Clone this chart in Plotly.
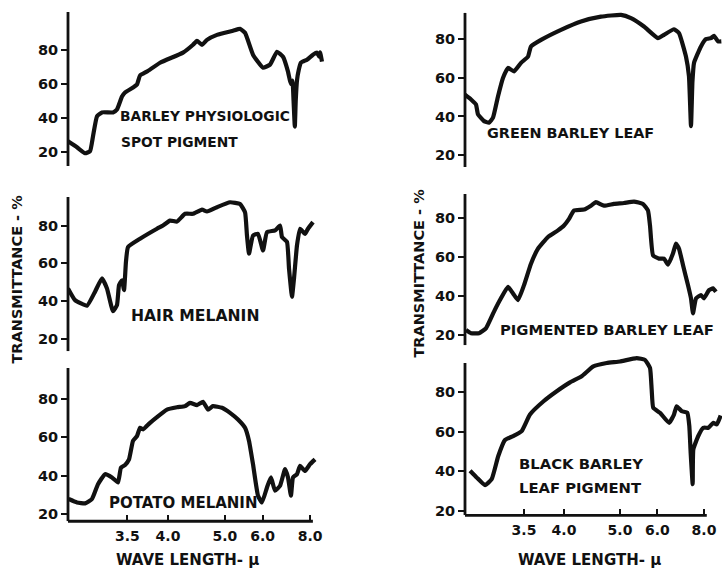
import plotly.graph_objects as go

# ---------------- data ----------------
# x: wavenumber in cm^-1 (the chart's abscissa is linear in 1/wavelength),
# y: transmittance in %
barley_spot_nu = [3380, 3301, 3230, 3186, 3160, 3125, 3081, 2984, 2949, 2905, 2878, 2808, 2773,
                  2746, 2685, 2570, 2368, 2280, 2245, 2201, 2157, 2069, 1928, 1866, 1822, 1752,
                  1664, 1602, 1541, 1488, 1444, 1420, 1405, 1395, 1384, 1376, 1365, 1350, 1330,
                  1277, 1224, 1189, 1171, 1162, 1145]
barley_spot_t = [26.4, 22.9, 19.4, 20.6, 29.3, 41, 43.3, 43.3, 45, 52.6, 55, 57.9, 59.6,
                 64.9, 67.2, 72.4, 78.3, 82.9, 85.2, 82.9, 85.8, 88.7, 91.1, 92.2, 89.9, 77.1,
                 69.5, 71.3, 78.8, 75.9, 67.2, 60, 62, 50, 35, 50, 62, 68, 72.4,
                 74.2, 77.1, 78.3, 76, 78.5, 73]

hair_nu = [3380, 3318, 3213, 3142, 3081, 3037, 2984, 2949, 2931, 2905, 2887, 2870, 2852, 2746,
           2597, 2544, 2482, 2421, 2350, 2280, 2201, 2157, 2069, 1954, 1866, 1822, 1805, 1787,
           1752, 1708, 1664, 1629, 1558, 1514, 1497, 1453, 1435, 1409, 1391, 1365, 1338, 1294,
           1268, 1224]
hair_t = [46.7, 40.5, 37.6, 45, 52, 46.7, 34.7, 37.9, 48.4, 51, 45.8, 60.7, 68.6, 73,
          78.3, 80, 82.6, 82.1, 86.2, 86.2, 88.4, 87.4, 89.7, 92.3, 91.4, 87, 74.7, 65.1,
          74.7, 75.6, 66.8, 76.5, 77.4, 80, 73.9, 71.3, 57.2, 42.3, 52, 69.5, 78.3, 75.6,
          78.3, 81.8]

potato_nu = [3375, 3301, 3230, 3169, 3116, 3054, 2993, 2940, 2914, 2878, 2843, 2808, 2773, 2746,
             2720, 2658, 2597, 2509, 2421, 2350, 2306, 2245, 2192, 2148, 2104, 2025, 1954, 1884,
             1822, 1787, 1752, 1708, 1673, 1629, 1594, 1558, 1514, 1470, 1444, 1418, 1400, 1365,
             1338, 1294, 1250, 1206]
potato_t = [27.8, 26, 25.5, 27.8, 35.5, 40.7, 39, 36.4, 44.1, 45.5, 48.4, 58, 60.5, 64.8,
            64, 67.4, 70.4, 74.3, 75.5, 76.1, 77.8, 76.6, 78.3, 74.3, 76.1, 75.2, 72.6, 69.1,
            64.8, 58, 45.9, 29.5, 26, 33.8, 39, 32.1, 34.7, 43.3, 39, 29.5, 39, 40.7,
            45, 42.4, 45.9, 48.4]

green_nu = [3384, 3330, 3286, 3268, 3214, 3170, 3134, 3089, 3045, 3000, 2947, 2884, 2821, 2795,
            2705, 2527, 2348, 2170, 1991, 1902, 1786, 1661, 1607, 1518, 1473, 1411, 1384, 1366,
            1353, 1339, 1277, 1232, 1187, 1161, 1125, 1095]
green_t = [51.3, 48.8, 46.2, 41.1, 37.6, 36.8, 39.4, 50.5, 59.9, 65.1, 63.3, 67.7, 71, 76.2,
           79.6, 84.8, 89.1, 91.6, 92.5, 90.8, 86.5, 80.5, 82.2, 85.1, 83.1, 71, 60.8, 35,
           58, 67.7, 76.2, 80, 80.5, 81.7, 78.8, 78.8]

pigmented_nu = [3375, 3330, 3259, 3197, 3125, 3063, 3000, 2955, 2911, 2857, 2795, 2732, 2643,
                2554, 2500, 2455, 2411, 2321, 2259, 2214, 2143, 2054, 1964, 1875, 1795, 1750,
                1732, 1705, 1652, 1607, 1571, 1527, 1500, 1473, 1437, 1393, 1366, 1348, 1321,
                1277, 1250, 1205, 1170, 1143]
pigmented_t = [22.6, 20.9, 20.9, 23.4, 32, 38.8, 44.7, 41.3, 37.9, 45.6, 56.6, 64.3, 70.3,
               73.7, 76.2, 79.6, 83.9, 84.4, 86.4, 88.2, 86.4, 87.3, 87.8, 88.5, 87.3, 83.9,
               76.2, 60.9, 59.2, 59.2, 56.1, 61.8, 66.9, 64.3, 55.8, 45.6, 38.8, 31.1, 38.8,
               40.5, 38.8, 43, 43.9, 42.2]

black_nu = [3339, 3280, 3205, 3146, 3087, 3027, 2953, 2878, 2804, 2685, 2565, 2446, 2342,
            2238, 2119, 2000, 1851, 1777, 1732, 1717, 1703, 1643, 1562, 1518, 1494, 1449,
            1399, 1381, 1369, 1351, 1345, 1301, 1256, 1211, 1167, 1136, 1101]
black_t = [40.2, 36.8, 32.9, 35.9, 47.7, 55.8, 57.8, 60.3, 68.7, 75.3, 80.5, 85, 88.1,
           93.1, 94.8, 95.6, 97.3, 96.4, 92.3, 81.3, 72.1, 69.6, 64.5, 68.7, 72.9, 70.4,
           69.6, 62.9, 49.4, 33.4, 51.1, 57.8, 62, 62, 64.5, 63.7, 68.2]

wavelength_ticks = [3.5, 4.0, 5.0, 6.0, 8.0]          # microns
wavelength_tick_text = ["3.5", "4.0", "5.0", "6.0", "8.0"]
y_ticks = [20, 40, 60, 80]

labels = [["BARLEY PHYSIOLOGIC", "SPOT PIGMENT"], ["HAIR MELANIN"], ["POTATO MELANIN"],
          ["GREEN BARLEY LEAF"], ["PIGMENTED BARLEY LEAF"], ["BLACK BARLEY", "LEAF PIGMENT"]]
y_title = "TRANSMITTANCE - %"
x_title = "WAVE LENGTH- μ"

# ---------------- layout geometry ----------------
W, H = 722, 571
FONT = "DejaVu Sans"
INK = "#111111"

def nu_left(px):
    return 2500 + (168 - px) * 8.8

def nu_right(px):
    return 2500 + (564 - px) * 8.93

def yrange(t80, t20, top, bottom):
    s = (t20 - t80) / 60.0
    return [20 - (bottom - t20) / s, 80 + (t80 - top) / s]

# (series, x px0, x px1, nu func, y tick80 px, tick20 px, top px, bottom px, axis-top px, bottom?)
panels = [
    (barley_spot_nu, barley_spot_t, 68, 325, nu_left, 50, 153, 12, 167, 12, False),
    (hair_nu, hair_t, 68, 325, nu_left, 226.7, 340.7, 198, 353, 198, False),
    (potato_nu, potato_t, 68, 325, nu_left, 400.7, 516.7, 370, 524, 370, True),
    (green_nu, green_t, 465, 722, nu_right, 39.3, 156, 10, 168, 13, False),
    (pigmented_nu, pigmented_t, 465, 722, nu_right, 219.3, 336.7, 195, 347, 195, False),
    (black_nu, black_t, 465, 722, nu_right, 394.3, 513.3, 352, 518, 365, True),
]
label_pos = [[(118, 117), (119, 143)], [(129, 318)], [(107, 506)],
             [(485, 134)], [(498, 331)], [(517, 466), (517, 490)]]
label_size = [[13.8, 13.8], [15.6], [15], [14.4], [14.8], [14.8, 14.8]]

fig = go.Figure()
layout = dict(width=W, height=H, margin=dict(l=0, r=0, t=0, b=0),
              paper_bgcolor="white", plot_bgcolor="white", showlegend=False)
shapes = []
annotations = []

for i, (nu, t, x0, x1, fnu, t80, t20, top, bot, axtop, show_x) in enumerate(panels):
    k = "" if i == 0 else str(i + 1)
    xr = [fnu(x0), fnu(x1)]
    yr = yrange(t80, t20, top, bot)
    fig.add_trace(go.Scatter(x=nu, y=t, mode="lines", xaxis="x" + k, yaxis="y" + k,
                             line=dict(color=INK, width=4.2, shape="spline", smoothing=0.4),
                             hoverinfo="skip"))
    xa = dict(domain=[x0 / W, x1 / W], range=xr, anchor="y" + k, showgrid=False,
              zeroline=False, showline=False, fixedrange=True)
    if show_x:
        xa.update(tickmode="array", tickvals=[1e4 / w for w in wavelength_ticks],
                  ticktext=wavelength_tick_text, ticks="inside", ticklen=6, tickwidth=2.2,
                  tickcolor=INK, ticklabelstandoff=5,
                  tickfont=dict(family=FONT, size=14, color=INK, weight="bold"))
        # x axis base line (ends just past the 8.0 tick)
        shapes.append(dict(type="line", xref="x" + k, yref="y" + k + " domain",
                           x0=xr[0], x1=1225, y0=0, y1=0,
                           line=dict(color=INK, width=2.8)))
    else:
        xa.update(visible=False)
    ya = dict(domain=[1 - bot / H, 1 - top / H], range=yr, anchor="x" + k, showgrid=False,
              zeroline=False, showline=False, tickmode="array", tickvals=y_ticks,
              ticks="outside", ticklen=6, tickwidth=2.4, tickcolor=INK,
              tickfont=dict(family=FONT, size=14.5, color=INK, weight="bold"), fixedrange=True)
    # y axis line
    shapes.append(dict(type="line", xref="x" + k + " domain", yref="y" + k,
                       x0=0, x1=0, y0=yr[0], y1=yrange(t80, t20, axtop, bot)[1],
                       line=dict(color=INK, width=2.8)))
    layout["xaxis" + k] = xa
    layout["yaxis" + k] = ya
    for txt, (px, py), fs in zip(labels[i], label_pos[i], label_size[i]):
        annotations.append(dict(text=txt, xref="paper", yref="paper", x=px / W, y=1 - py / H,
                                xanchor="left", yanchor="middle", showarrow=False,
                                font=dict(family=FONT, size=fs, color=INK, weight="bold")))

for px, py in [(17, 281), (419, 275)]:
    annotations.append(dict(text=y_title, xref="paper", yref="paper", x=px / W, y=1 - py / H,
                            xanchor="center", yanchor="middle", textangle=-90, showarrow=False,
                            font=dict(family=FONT, size=14.5, color=INK, weight="bold")))
for px, py in [(187, 563), (589, 563)]:
    annotations.append(dict(text=x_title, xref="paper", yref="paper", x=px / W, y=1 - py / H,
                            xanchor="center", yanchor="middle", showarrow=False,
                            font=dict(family=FONT, size=15, color=INK, weight="bold")))

layout["shapes"] = shapes
layout["annotations"] = annotations
fig.update_layout(**layout)
fig.write_html("out.html", config={"displayModeBar": False})
